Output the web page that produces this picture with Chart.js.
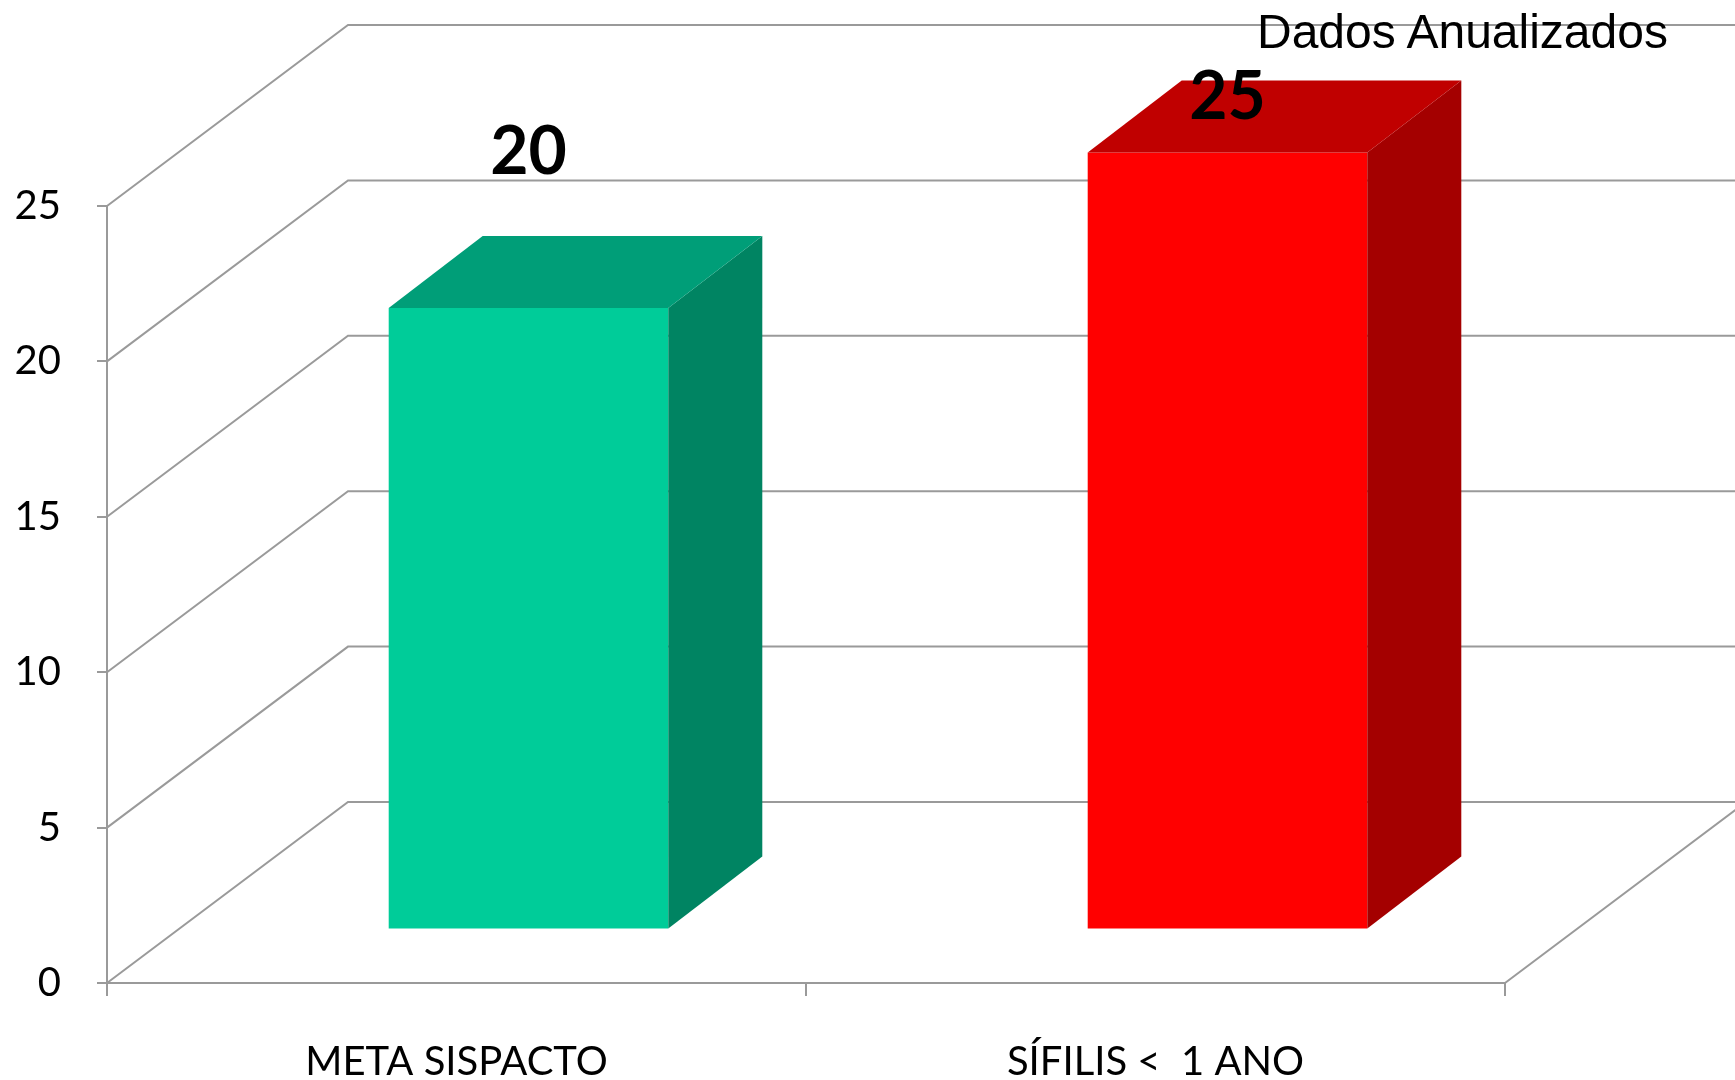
<!DOCTYPE html>
<html lang="pt">
<head>
<meta charset="utf-8">
<title>Sífilis &lt; 1 ano</title>
<script src="https://cdn.jsdelivr.net/npm/chart.js@4.4.1/dist/chart.umd.min.js"></script>
<style>
  html, body { margin: 0; padding: 0; background: #fff; }
  .wrap { position: relative; width: 1735px; height: 1080px; overflow: hidden; }
  .note {
    position: absolute; left: 1257px; top: 4px;
    font: 48px "Liberation Sans", Arial, sans-serif; color: #000;
    white-space: nowrap;
  }
</style>
</head>
<body>
<div class="wrap">
  <canvas id="chart"></canvas>
  <div class="note">Dados Anualizados</div>
</div>
<script>
  /* ---------- data ---------- */
  const categories = ['META SISPACTO', 'SÍFILIS <  1 ANO'];
  const values = [20, 25];
  const frontColors = ['#00CC99', '#FF0000'];
  const topColors = ['#009E78', '#C00000'];
  const sideColors = ['#008462', '#A40000'];
  const yTicks = [0, 5, 10, 15, 20, 25];

  /* ---------- fake 3D: back wall, side wall, bar faces ---------- */
  const box3d = {
    id: 'box3d',
    beforeDatasetsDraw(chart, args, opts) {
      const { ctx, chartArea: a, scales: { y } } = chart;
      ctx.save();
      ctx.strokeStyle = opts.gridColor;
      ctx.lineWidth = opts.gridWidth;
      ctx.beginPath();
      yTicks.forEach(v => {
        const py = y.getPixelForValue(v);
        ctx.moveTo(a.left, py);
        ctx.lineTo(a.left + opts.depth.dx, py + opts.depth.dy);
        ctx.lineTo(chart.width + 10, py + opts.depth.dy);
      });
      // right edge of the floor
      const y0 = y.getPixelForValue(0);
      ctx.moveTo(a.right, y0);
      ctx.lineTo(a.right + opts.depth.dx, y0 + opts.depth.dy);
      ctx.stroke();
      ctx.restore();

      // push the front faces back into the bar plane
      ctx.save();
      ctx.translate(opts.shift.dx, opts.shift.dy);
    },
    afterDatasetsDraw(chart, args, opts) {
      const { ctx } = chart;
      ctx.restore();
      const { dx, dy } = opts.shift;
      const bx = opts.barDepth.dx, by = opts.barDepth.dy;
      const meta = chart.getDatasetMeta(0);

      meta.data.forEach((bar, i) => {
        const l = bar.x - bar.width / 2 + dx;
        const r = bar.x + bar.width / 2 + dx;
        const t = bar.y + dy;
        const b = bar.base + dy;

        ctx.fillStyle = sideColors[i];
        ctx.beginPath();
        ctx.moveTo(r, t);
        ctx.lineTo(r + bx, t + by);
        ctx.lineTo(r + bx, b + by);
        ctx.lineTo(r, b);
        ctx.closePath();
        ctx.fill();

        ctx.fillStyle = topColors[i];
        ctx.beginPath();
        ctx.moveTo(l, t);
        ctx.lineTo(l + bx, t + by);
        ctx.lineTo(r + bx, t + by);
        ctx.lineTo(r, t);
        ctx.closePath();
        ctx.fill();
      });

      // value labels
      ctx.save();
      ctx.fillStyle = '#000';
      ctx.font = 'bold 66px Lato, "Open Sans", sans-serif';
      ctx.textAlign = 'center';
      ctx.textBaseline = 'middle';
      meta.data.forEach((bar, i) => {
        ctx.fillText(String(values[i]), bar.x + dx, bar.y + dy + opts.labelLift[i]);
      });
      ctx.restore();
    }
  };

  const grey = '#9a9a9a';

  new Chart(document.getElementById('chart'), {
    type: 'bar',
    data: {
      labels: categories,
      datasets: [{
        data: values,
        backgroundColor: frontColors,
        borderWidth: 0,
        barPercentage: 0.4,
        categoryPercentage: 1,
        clip: false
      }]
    },
    options: {
      responsive: true,
      maintainAspectRatio: false,
      animation: false,
      layout: { padding: { top: 206, right: 230, left: 0, bottom: 0 } },
      plugins: {
        legend: { display: false },
        tooltip: { enabled: false },
        box3d: {
          gridColor: grey,
          gridWidth: 2,
          depth: { dx: 241, dy: -181 },
          shift: { dx: 72, dy: -53.5 },
          barDepth: { dx: 94, dy: -72 },
          labelLift: [-155, -55]
        }
      },
      scales: {
        x: {
          offset: true,
          afterFit: s => { s.height = 97; },
          grid: { offset: true, drawOnChartArea: false, color: grey, lineWidth: 2, tickLength: 13 },
          border: { color: grey, width: 2 },
          ticks: {
            color: '#000',
            padding: 42,
            maxRotation: 0,
            font: { family: 'Lato, "Open Sans", sans-serif', size: 40 }
          }
        },
        y: {
          min: 0,
          max: 25,
          afterFit: s => { s.width = 107; },
          afterBuildTicks: s => { s.ticks = yTicks.map(v => ({ value: v })); },
          grid: { drawOnChartArea: false, color: grey, lineWidth: 2, tickLength: 10 },
          border: { color: grey, width: 2 },
          ticks: {
            color: '#000',
            padding: 36,
            font: { family: 'Lato, "Open Sans", sans-serif', size: 40 }
          }
        }
      }
    },
    plugins: [box3d]
  });
</script>
</body>
</html>
